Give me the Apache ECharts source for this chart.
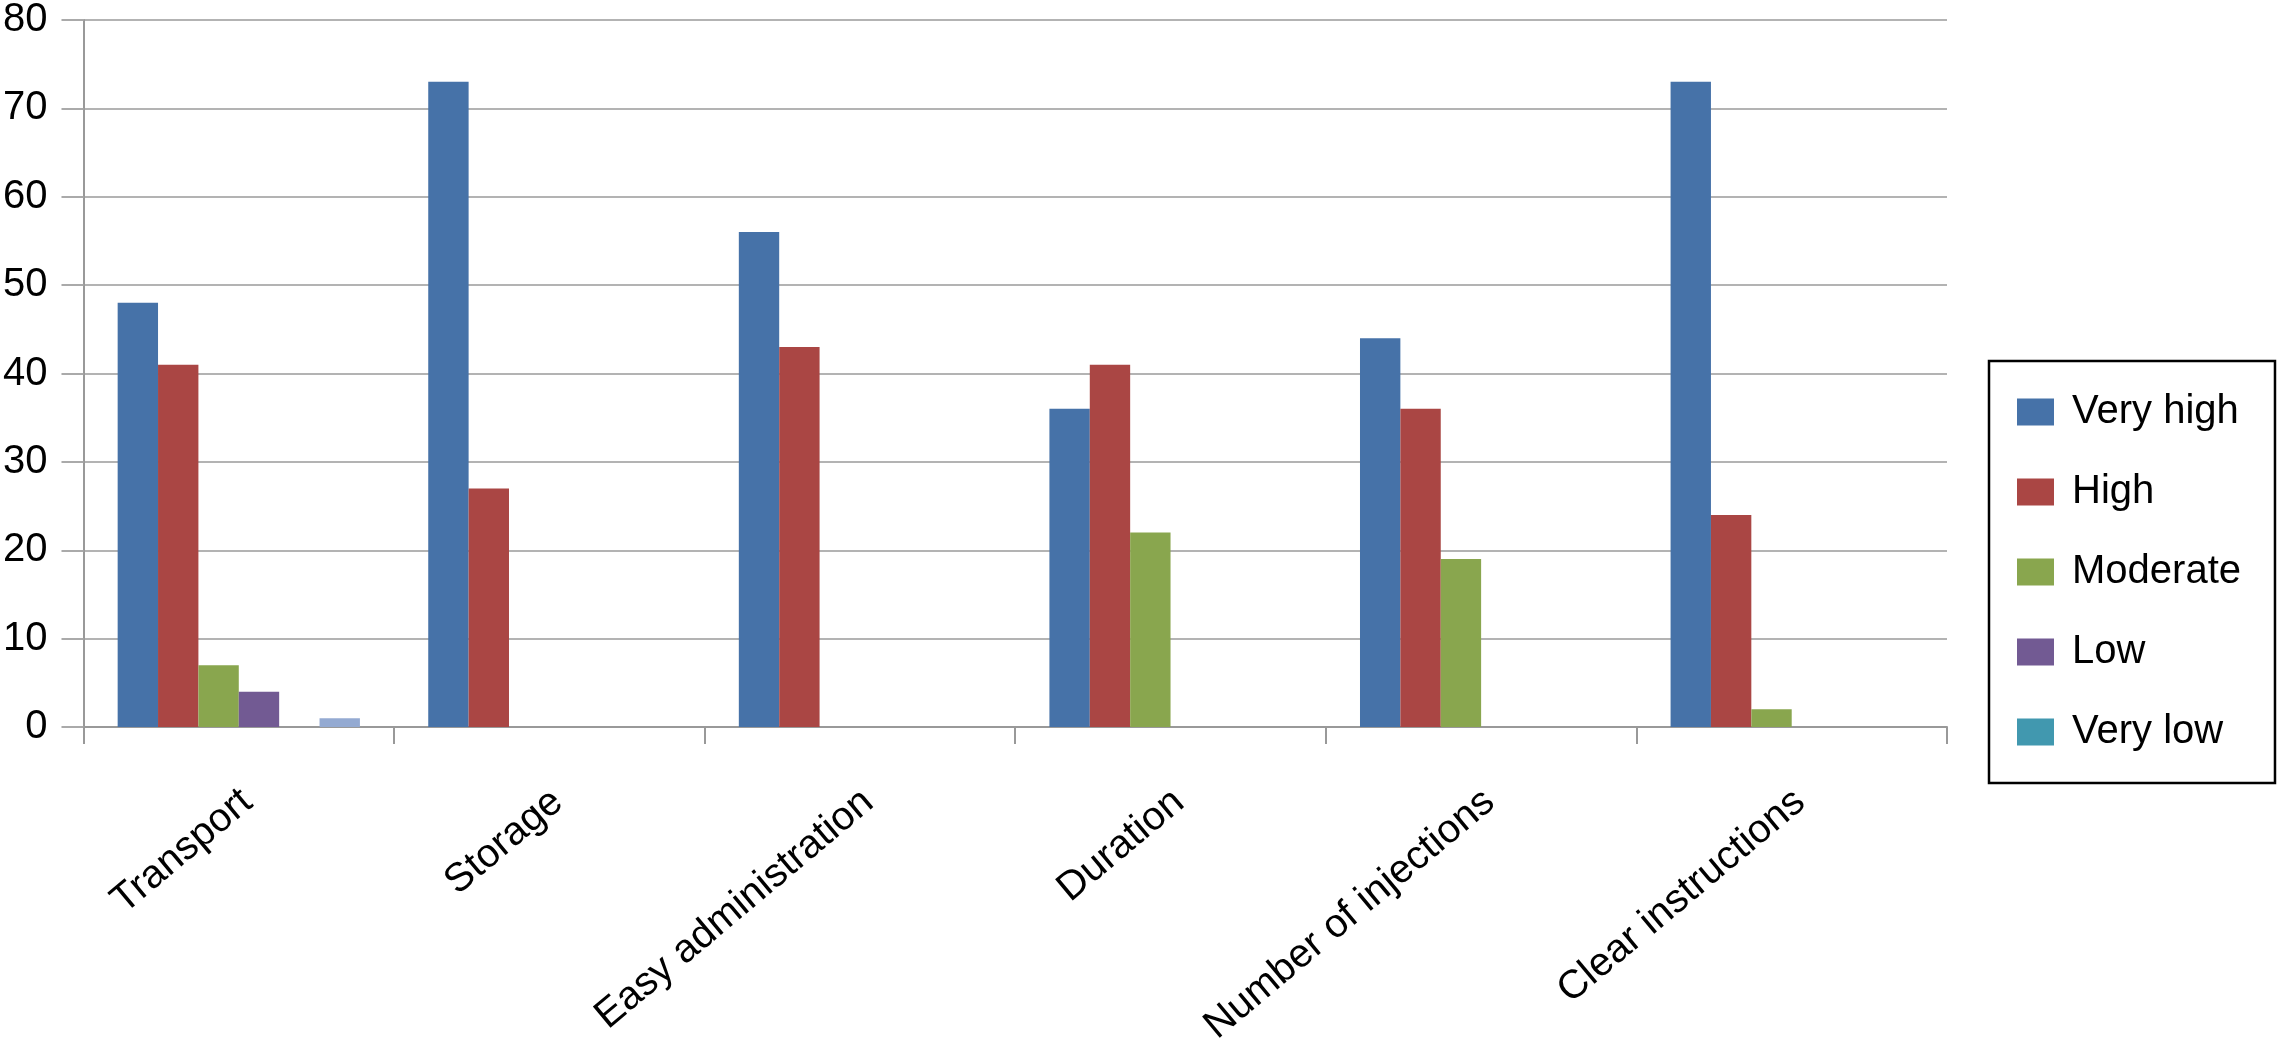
<!DOCTYPE html>
<html>
<head>
<meta charset="utf-8">
<script src="https://cdn.jsdelivr.net/npm/echarts@6/dist/echarts.min.js"></script>
<style>
html,body{margin:0;padding:0;background:#fff;}
#chart{width:2278px;height:1063px;}
</style>
</head>
<body>
<div id="chart"></div>
<script>
const categories = ['Transport', 'Storage', 'Easy administration', 'Duration', 'Number of injections', 'Clear instructions'];
const seriesNames = ['Very high', 'High', 'Moderate', 'Low', 'Very low', ''];
const veryHigh = [48, 73, 56, 36, 44, 73];
const high = [41, 27, 43, 41, 36, 24];
const moderate = [7, 0, 0, 22, 19, 2];
const low = [4, 0, 0, 0, 0, 0];
const veryLow = [0, 0, 0, 0, 0, 0];
const unlabeled = [1, 0, 0, 0, 0, 0];
const yTicks = [0, 10, 20, 30, 40, 50, 60, 70, 80];

const colors = ['#4672A8', '#AA4644', '#89A64E', '#725A93', '#4198AF', '#94AAD2'];
const dataSets = [veryHigh, high, moderate, low, veryLow, unlabeled];
const FONT = '"Liberation Sans", Arial, Helvetica, sans-serif';

const chart = echarts.init(document.getElementById('chart'));
chart.setOption({
  animation: false,
  backgroundColor: '#ffffff',
  grid: { left: 81, right: 331, top: 17, bottom: 336, containLabel: false },
  legend: {
    orient: 'vertical',
    left: 1989,
    top: 361,
    data: seriesNames.slice(0, 5),
    icon: 'rect',
    itemWidth: 37,
    itemHeight: 27,
    itemGap: 40,
    padding: [31, 34, 31, 28],
    borderColor: '#000',
    borderWidth: 2.5,
    textStyle: { fontFamily: FONT, fontSize: 40, color: '#000', lineHeight: 40, padding: [0, 0, 0, 13] }
  },
  xAxis: {
    type: 'category',
    data: categories,
    axisLine: { show: true, lineStyle: { color: '#999', width: 2 } },
    axisTick: { show: true, length: 17, lineStyle: { color: '#999', width: 2 } },
    axisLabel: {
      rotate: 40, margin: 60, fontFamily: FONT, fontSize: 40, color: '#000', interval: 0,
      verticalAlign: 'top', lineHeight: 26
    },
    splitLine: { show: false }
  },
  yAxis: {
    type: 'value',
    min: yTicks[0],
    max: yTicks[yTicks.length - 1],
    interval: 10,
    axisLine: { show: true, lineStyle: { color: '#999', width: 2 } },
    axisTick: { show: true, length: 22, lineStyle: { color: '#aaa', width: 2 } },
    axisLabel: { margin: 36, fontFamily: FONT, fontSize: 40, color: '#000' },
    splitLine: { show: true, lineStyle: { color: '#b3b3b3', width: 2 } }
  },
  series: dataSets.map((d, i) => ({
    name: seriesNames[i],
    type: 'bar',
    data: d,
    barGap: 0,
    barCategoryGap: '22%',
    itemStyle: { color: colors[i] }
  }))
});
</script>
</body>
</html>
